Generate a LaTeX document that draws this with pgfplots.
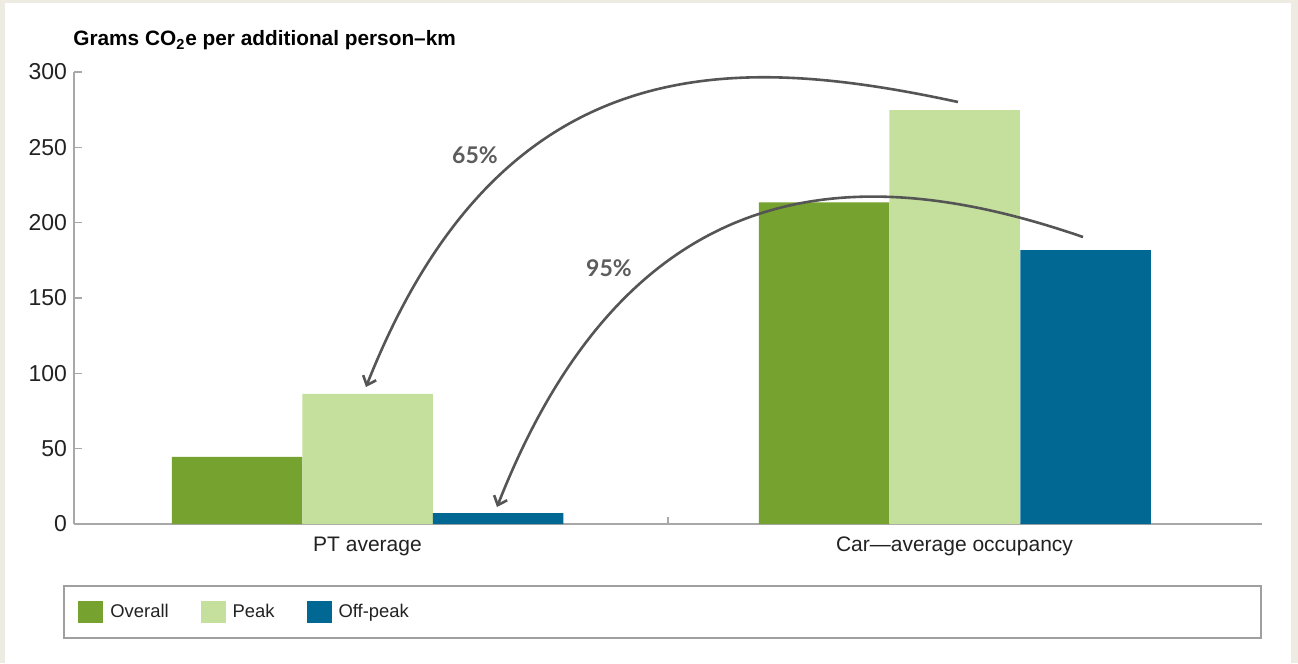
\documentclass[border=0pt]{standalone}
\usepackage{fontspec}
\setmainfont{Liberation Sans}
\newfontfamily\pctfont{Lato}
\usepackage{pgfplots}
\pgfplotsset{compat=1.18}
\usetikzlibrary{arrows.meta}
\definecolor{bgbeige}{HTML}{EEEBE3}
\definecolor{overall}{HTML}{76A22F}
\definecolor{peak}{HTML}{C5E09D}
\definecolor{offpeak}{HTML}{006892}
\definecolor{axgray}{HTML}{A8A8A8}
\definecolor{arrowgray}{HTML}{555555}
\definecolor{labelgray}{HTML}{5C5C5C}
\definecolor{txt}{HTML}{222222}

\begin{document}
\begin{tikzpicture}
\begin{scope}[x=0.5bp,y=-0.5bp]
\fill[bgbeige] (0,0) rectangle (1298,663);
\fill[white] (5,3) rectangle (1291,663);
\end{scope}
\begin{axis}[
  at={(37bp,-262bp)}, anchor=south west,
  scale only axis, width=594bp, height=226bp,
  xmin=0, xmax=2, ymin=0, ymax=300,
  enlargelimits=false,
  axis x line=bottom, axis y line=left,
  axis line style={axgray, line width=1.1bp, -},
  tick align=inside,
  ytick={0,50,...,300},
  ytick style={axgray, line width=0.8bp},
  major tick length=4bp,
  xtick={0.4941,1.4823},
  xticklabels={PT average, Car—average occupancy},
  xtick style={draw=none},
  extra x ticks={1},
  extra x tick labels={},
  extra x tick style={xtick style={draw=axgray, line width=0.8bp}, major tick length=3.5bp},
  yticklabel style={font=\fontsize{11.5bp}{13bp}\selectfont, text=txt},
  xticklabel style={font=\fontsize{10.5bp}{12bp}\selectfont, text=txt, yshift=-3bp},
  /pgf/number format/assume math mode=true,
  legend columns=3,
  legend style={draw=none, fill=none, at={(0.0034,-0.1947)}, anchor=west, inner sep=0pt,
    font=\fontsize{9.2bp}{11bp}\selectfont, text=txt,
    /tikz/every odd column/.append style={column sep=1.5bp},
    /tikz/every even column/.append style={column sep=14bp}},
  legend image code/.code={\fill[#1] (0bp,-5.5bp) rectangle (12.5bp,5.5bp);},
]
\addplot[ybar, bar width=0.2197, bar shift=0pt, fill=overall, draw=none] coordinates {(0.2744,44.5) (1.2626,213.5)};
\addlegendentry{Overall}
\addplot[ybar, bar width=0.2197, bar shift=0pt, fill=peak, draw=none] coordinates {(0.4941,86.3) (1.4823,274.7)};
\addlegendentry{Peak}
\addplot[ybar, bar width=0.2197, bar shift=0pt, fill=offpeak, draw=none] coordinates {(0.7138,7.3) (1.7029,181.8)};
\addlegendentry{Off-peak}
\end{axis}
\begin{scope}[x=0.5bp,y=-0.5bp]
\draw[arrowgray, line width=1.3bp, -{Straight Barb[length=4bp,width=7bp]}] (958,102) .. controls (735,54) and (502,43) .. (366,387);
\draw[arrowgray, line width=1.3bp, -{Straight Barb[length=4bp,width=7bp]}] (1083,237) .. controls (865,162) and (633,161) .. (497,507);
\node[text=labelgray, font=\pctfont\bfseries\fontsize{11.5bp}{13bp}\selectfont] at (475,155) {65\%};
\node[text=labelgray, font=\pctfont\bfseries\fontsize{11.5bp}{13bp}\selectfont] at (609,268) {95\%};
\node[anchor=base west, inner sep=0pt, text=black, font=\bfseries\fontsize{10.4bp}{12bp}\selectfont] at (73,46) {Grams CO\textsubscript{2}e per additional person–km};
\draw[gray!75, line width=0.8bp] (64,586) rectangle (1261,638);
\end{scope}
\end{tikzpicture}
\end{document}
